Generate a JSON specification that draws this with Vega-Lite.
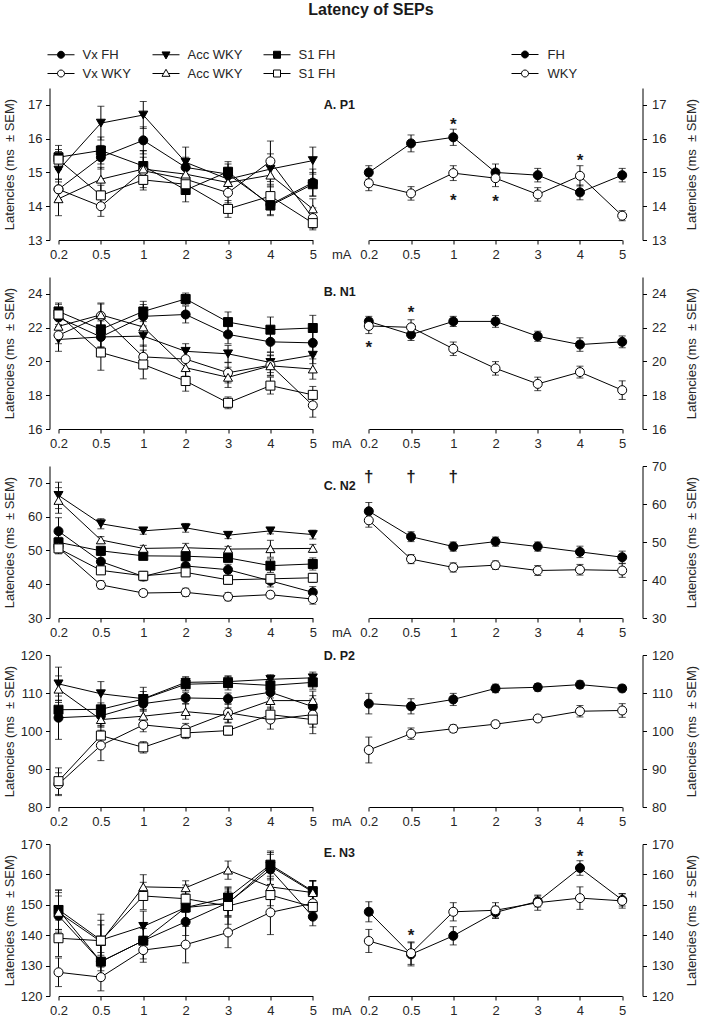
{
"$schema": "https://vega.github.io/schema/vega-lite/v6.json",
"padding": {"left": 3.5, "top": 2, "right": 2, "bottom": 2},
"title": {"text": "Latency of SEPs", "font": "Liberation Sans", "fontSize": 16, "fontWeight": "bold", "color": "#1a1a1a", "anchor": "middle", "dx": 20, "offset": 30},
"config": {
  "font": "Liberation Sans",
  "view": {"stroke": null},
  "axis": {"labelFont": "Liberation Sans", "labelFontSize": 13, "labelColor": "#262626", "titleFont": "Liberation Sans", "titleFontSize": 13, "titleFontWeight": "normal", "titleColor": "#262626", "domainColor": "#000", "tickColor": "#000", "tickSize": 4, "grid": false, "labelPadding": 4},
  "line": {"color": "#000", "strokeWidth": 1},
  "point": {"filled": true, "size": 81, "stroke": "#000", "strokeWidth": 1, "opacity": 1}
},
"resolve": {"scale": {"fill": "independent", "shape": "independent", "stroke": "independent"}, "legend": {"fill": "independent", "shape": "independent", "stroke": "independent"}},
"datasets": {
"lA": [
{"s":"Vx FH","x":"0.2","v":14.5,"e":0.3},{"s":"Vx FH","x":"0.5","v":15.45,"e":0.35},{"s":"Vx FH","x":"1","v":15.95,"e":0.4},{"s":"Vx FH","x":"2","v":15.15,"e":0.3},{"s":"Vx FH","x":"3","v":14.95,"e":0.3},{"s":"Vx FH","x":"4","v":14.05,"e":0.3},{"s":"Vx FH","x":"5","v":14.7,"e":0.4},
{"s":"Acc FH","x":"0.2","v":15.07,"e":0.55},{"s":"Acc FH","x":"0.5","v":16.46,"e":0.5},{"s":"Acc FH","x":"1","v":16.7,"e":0.4},{"s":"Acc FH","x":"2","v":15.3,"e":0.45},{"s":"Acc FH","x":"3","v":14.8,"e":0.35},{"s":"Acc FH","x":"4","v":15.1,"e":0.45},{"s":"Acc FH","x":"5","v":15.35,"e":0.4},
{"s":"S1 FH","x":"0.2","v":15.45,"e":0.35},{"s":"S1 FH","x":"0.5","v":15.65,"e":0.4},{"s":"S1 FH","x":"1","v":15.19,"e":0.45},{"s":"S1 FH","x":"2","v":14.48,"e":0.35},{"s":"S1 FH","x":"3","v":15.02,"e":0.3},{"s":"S1 FH","x":"4","v":14.02,"e":0.3},{"s":"S1 FH","x":"5","v":14.65,"e":0.35},
{"s":"Vx WKY","x":"0.2","v":14.5,"e":0.3},{"s":"Vx WKY","x":"0.5","v":14.0,"e":0.3},{"s":"Vx WKY","x":"1","v":15.05,"e":0.4},{"s":"Vx WKY","x":"2","v":14.8,"e":0.3},{"s":"Vx WKY","x":"3","v":14.4,"e":0.3},{"s":"Vx WKY","x":"4","v":15.33,"e":0.6},{"s":"Vx WKY","x":"5","v":13.65,"e":0.3},
{"s":"Acc WKY","x":"0.2","v":14.22,"e":0.5},{"s":"Acc WKY","x":"0.5","v":14.8,"e":0.35},{"s":"Acc WKY","x":"1","v":15.1,"e":0.55},{"s":"Acc WKY","x":"2","v":14.95,"e":0.3},{"s":"Acc WKY","x":"3","v":14.7,"e":0.3},{"s":"Acc WKY","x":"4","v":14.92,"e":0.35},{"s":"Acc WKY","x":"5","v":13.92,"e":0.3},
{"s":"S1 WKY","x":"0.2","v":15.38,"e":0.3},{"s":"S1 WKY","x":"0.5","v":14.32,"e":0.3},{"s":"S1 WKY","x":"1","v":14.78,"e":0.3},{"s":"S1 WKY","x":"2","v":14.65,"e":0.3},{"s":"S1 WKY","x":"3","v":13.92,"e":0.25},{"s":"S1 WKY","x":"4","v":14.3,"e":0.3},{"s":"S1 WKY","x":"5","v":13.5,"e":0.2}
],
"rA": [
{"s":"FH","x":"0.2","v":15.0,"e":0.2},{"s":"FH","x":"0.5","v":15.86,"e":0.25},{"s":"FH","x":"1","v":16.04,"e":0.24},{"s":"FH","x":"2","v":15.0,"e":0.25},{"s":"FH","x":"3","v":14.92,"e":0.2},{"s":"FH","x":"4","v":14.41,"e":0.22},{"s":"FH","x":"5","v":14.92,"e":0.2},
{"s":"WKY","x":"0.2","v":14.68,"e":0.22},{"s":"WKY","x":"0.5","v":14.38,"e":0.2},{"s":"WKY","x":"1","v":14.98,"e":0.22},{"s":"WKY","x":"2","v":14.83,"e":0.25},{"s":"WKY","x":"3","v":14.35,"e":0.2},{"s":"WKY","x":"4","v":14.9,"e":0.3},{"s":"WKY","x":"5","v":13.72,"e":0.15}
],
"lB": [
{"s":"Vx FH","x":"0.2","v":22.6,"e":0.6},{"s":"Vx FH","x":"0.5","v":21.45,"e":0.6},{"s":"Vx FH","x":"1","v":22.67,"e":0.7},{"s":"Vx FH","x":"2","v":22.78,"e":0.5},{"s":"Vx FH","x":"3","v":21.6,"e":0.55},{"s":"Vx FH","x":"4","v":21.16,"e":0.6},{"s":"Vx FH","x":"5","v":21.1,"e":0.7},
{"s":"Acc FH","x":"0.2","v":21.3,"e":0.7},{"s":"Acc FH","x":"0.5","v":21.45,"e":0.6},{"s":"Acc FH","x":"1","v":21.5,"e":0.6},{"s":"Acc FH","x":"2","v":20.6,"e":0.45},{"s":"Acc FH","x":"3","v":20.45,"e":0.5},{"s":"Acc FH","x":"4","v":19.94,"e":0.6},{"s":"Acc FH","x":"5","v":20.37,"e":0.5},
{"s":"S1 FH","x":"0.2","v":22.96,"e":0.5},{"s":"S1 FH","x":"0.5","v":21.9,"e":0.5},{"s":"S1 FH","x":"1","v":22.96,"e":0.6},{"s":"S1 FH","x":"2","v":23.7,"e":0.35},{"s":"S1 FH","x":"3","v":22.33,"e":0.6},{"s":"S1 FH","x":"4","v":21.88,"e":0.75},{"s":"S1 FH","x":"5","v":21.98,"e":0.75},
{"s":"Vx WKY","x":"0.2","v":21.55,"e":0.5},{"s":"Vx WKY","x":"0.5","v":22.7,"e":0.7},{"s":"Vx WKY","x":"1","v":20.27,"e":0.7},{"s":"Vx WKY","x":"2","v":20.14,"e":0.6},{"s":"Vx WKY","x":"3","v":19.33,"e":0.6},{"s":"Vx WKY","x":"4","v":19.78,"e":0.6},{"s":"Vx WKY","x":"5","v":17.4,"e":0.7},
{"s":"Acc WKY","x":"0.2","v":22.08,"e":0.6},{"s":"Acc WKY","x":"0.5","v":22.76,"e":0.7},{"s":"Acc WKY","x":"1","v":22.04,"e":0.6},{"s":"Acc WKY","x":"2","v":19.63,"e":0.5},{"s":"Acc WKY","x":"3","v":19.06,"e":0.6},{"s":"Acc WKY","x":"4","v":19.74,"e":0.6},{"s":"Acc WKY","x":"5","v":19.55,"e":0.6},
{"s":"S1 WKY","x":"0.2","v":22.78,"e":0.6},{"s":"S1 WKY","x":"0.5","v":20.53,"e":1.05},{"s":"S1 WKY","x":"1","v":19.82,"e":0.85},{"s":"S1 WKY","x":"2","v":18.84,"e":0.6},{"s":"S1 WKY","x":"3","v":17.55,"e":0.35},{"s":"S1 WKY","x":"4","v":18.57,"e":0.5},{"s":"S1 WKY","x":"5","v":18.02,"e":0.5}
],
"rB": [
{"s":"FH","x":"0.2","v":22.37,"e":0.3},{"s":"FH","x":"0.5","v":21.59,"e":0.35},{"s":"FH","x":"1","v":22.37,"e":0.3},{"s":"FH","x":"2","v":22.37,"e":0.35},{"s":"FH","x":"3","v":21.49,"e":0.3},{"s":"FH","x":"4","v":21.0,"e":0.4},{"s":"FH","x":"5","v":21.16,"e":0.35},
{"s":"WKY","x":"0.2","v":22.1,"e":0.45},{"s":"WKY","x":"0.5","v":22.02,"e":0.45},{"s":"WKY","x":"1","v":20.75,"e":0.4},{"s":"WKY","x":"2","v":19.59,"e":0.4},{"s":"WKY","x":"3","v":18.67,"e":0.4},{"s":"WKY","x":"4","v":19.37,"e":0.35},{"s":"WKY","x":"5","v":18.3,"e":0.55}
],
"lC": [
{"s":"Vx FH","x":"0.2","v":55.7,"e":4.0},{"s":"Vx FH","x":"0.5","v":46.7,"e":1.8},{"s":"Vx FH","x":"1","v":42.3,"e":1.3},{"s":"Vx FH","x":"2","v":45.4,"e":1.5},{"s":"Vx FH","x":"3","v":44.3,"e":1.6},{"s":"Vx FH","x":"4","v":41.0,"e":1.8},{"s":"Vx FH","x":"5","v":37.6,"e":1.7},
{"s":"Acc FH","x":"0.2","v":66.3,"e":3.9},{"s":"Acc FH","x":"0.5","v":57.9,"e":1.5},{"s":"Acc FH","x":"1","v":55.8,"e":1.0},{"s":"Acc FH","x":"2","v":56.7,"e":1.3},{"s":"Acc FH","x":"3","v":54.5,"e":1.0},{"s":"Acc FH","x":"4","v":55.8,"e":0.9},{"s":"Acc FH","x":"5","v":54.7,"e":1.3},
{"s":"S1 FH","x":"0.2","v":52.4,"e":1.5},{"s":"S1 FH","x":"0.5","v":49.9,"e":1.0},{"s":"S1 FH","x":"1","v":48.4,"e":1.0},{"s":"S1 FH","x":"2","v":48.3,"e":1.3},{"s":"S1 FH","x":"3","v":47.8,"e":1.0},{"s":"S1 FH","x":"4","v":45.5,"e":2.0},{"s":"S1 FH","x":"5","v":46.0,"e":1.8},
{"s":"Vx WKY","x":"0.2","v":50.8,"e":1.5},{"s":"Vx WKY","x":"0.5","v":39.8,"e":1.2},{"s":"Vx WKY","x":"1","v":37.4,"e":1.0},{"s":"Vx WKY","x":"2","v":37.6,"e":1.2},{"s":"Vx WKY","x":"3","v":36.3,"e":1.2},{"s":"Vx WKY","x":"4","v":36.9,"e":1.0},{"s":"Vx WKY","x":"5","v":35.6,"e":1.5},
{"s":"Acc WKY","x":"0.2","v":64.8,"e":3.8},{"s":"Acc WKY","x":"0.5","v":53.1,"e":1.0},{"s":"Acc WKY","x":"1","v":50.6,"e":0.9},{"s":"Acc WKY","x":"2","v":50.8,"e":1.3},{"s":"Acc WKY","x":"3","v":50.4,"e":0.8},{"s":"Acc WKY","x":"4","v":50.5,"e":2.5},{"s":"Acc WKY","x":"5","v":50.6,"e":1.2},
{"s":"S1 WKY","x":"0.2","v":50.6,"e":1.6},{"s":"S1 WKY","x":"0.5","v":44.1,"e":1.2},{"s":"S1 WKY","x":"1","v":42.5,"e":1.3},{"s":"S1 WKY","x":"2","v":43.5,"e":1.0},{"s":"S1 WKY","x":"3","v":41.3,"e":1.3},{"s":"S1 WKY","x":"4","v":41.6,"e":1.2},{"s":"S1 WKY","x":"5","v":41.9,"e":1.3}
],
"rC": [
{"s":"FH","x":"0.2","v":58.1,"e":2.3},{"s":"FH","x":"0.5","v":51.4,"e":1.3},{"s":"FH","x":"1","v":48.8,"e":1.2},{"s":"FH","x":"2","v":50.1,"e":1.2},{"s":"FH","x":"3","v":48.8,"e":1.2},{"s":"FH","x":"4","v":47.4,"e":1.5},{"s":"FH","x":"5","v":46.0,"e":1.6},
{"s":"WKY","x":"0.2","v":55.7,"e":1.8},{"s":"WKY","x":"0.5","v":45.5,"e":1.2},{"s":"WKY","x":"1","v":43.3,"e":1.2},{"s":"WKY","x":"2","v":43.9,"e":1.1},{"s":"WKY","x":"3","v":42.5,"e":1.3},{"s":"WKY","x":"4","v":42.7,"e":1.4},{"s":"WKY","x":"5","v":42.5,"e":1.8}
],
"lD": [
{"s":"Vx FH","x":"0.2","v":103.5,"e":5.7},{"s":"Vx FH","x":"0.5","v":104.0,"e":2.5},{"s":"Vx FH","x":"1","v":107.2,"e":2.0},{"s":"Vx FH","x":"2","v":108.7,"e":1.5},{"s":"Vx FH","x":"3","v":108.5,"e":1.5},{"s":"Vx FH","x":"4","v":110.2,"e":1.5},{"s":"Vx FH","x":"5","v":106.4,"e":2.0},
{"s":"Acc FH","x":"0.2","v":112.4,"e":4.4},{"s":"Acc FH","x":"0.5","v":109.8,"e":3.2},{"s":"Acc FH","x":"1","v":108.5,"e":3.0},{"s":"Acc FH","x":"2","v":112.8,"e":1.5},{"s":"Acc FH","x":"3","v":113.0,"e":1.5},{"s":"Acc FH","x":"4","v":113.6,"e":1.2},{"s":"Acc FH","x":"5","v":114.0,"e":1.5},
{"s":"S1 FH","x":"0.2","v":105.6,"e":2.5},{"s":"S1 FH","x":"0.5","v":105.7,"e":1.7},{"s":"S1 FH","x":"1","v":108.4,"e":2.0},{"s":"S1 FH","x":"2","v":112.3,"e":1.7},{"s":"S1 FH","x":"3","v":112.6,"e":1.8},{"s":"S1 FH","x":"4","v":112.0,"e":1.5},{"s":"S1 FH","x":"5","v":112.8,"e":1.8},
{"s":"Vx WKY","x":"0.2","v":86.0,"e":3.0},{"s":"Vx WKY","x":"0.5","v":96.2,"e":4.0},{"s":"Vx WKY","x":"1","v":101.6,"e":1.8},{"s":"Vx WKY","x":"2","v":100.5,"e":1.5},{"s":"Vx WKY","x":"3","v":104.8,"e":2.5},{"s":"Vx WKY","x":"4","v":103.0,"e":2.5},{"s":"Vx WKY","x":"5","v":104.3,"e":5.0},
{"s":"Acc WKY","x":"0.2","v":111.0,"e":3.5},{"s":"Acc WKY","x":"0.5","v":103.0,"e":2.0},{"s":"Acc WKY","x":"1","v":103.9,"e":1.8},{"s":"Acc WKY","x":"2","v":105.1,"e":2.0},{"s":"Acc WKY","x":"3","v":104.1,"e":2.0},{"s":"Acc WKY","x":"4","v":108.0,"e":2.0},{"s":"Acc WKY","x":"5","v":108.0,"e":2.5},
{"s":"S1 WKY","x":"0.2","v":86.8,"e":3.5},{"s":"S1 WKY","x":"0.5","v":98.8,"e":2.5},{"s":"S1 WKY","x":"1","v":95.7,"e":1.5},{"s":"S1 WKY","x":"2","v":99.5,"e":1.5},{"s":"S1 WKY","x":"3","v":100.1,"e":1.2},{"s":"S1 WKY","x":"4","v":104.3,"e":2.0},{"s":"S1 WKY","x":"5","v":103.0,"e":2.0}
],
"rD": [
{"s":"FH","x":"0.2","v":107.2,"e":2.7},{"s":"FH","x":"0.5","v":106.5,"e":2.0},{"s":"FH","x":"1","v":108.3,"e":1.6},{"s":"FH","x":"2","v":111.2,"e":1.1},{"s":"FH","x":"3","v":111.5,"e":1.0},{"s":"FH","x":"4","v":112.2,"e":1.0},{"s":"FH","x":"5","v":111.2,"e":0.9},
{"s":"WKY","x":"0.2","v":95.0,"e":3.4},{"s":"WKY","x":"0.5","v":99.3,"e":1.5},{"s":"WKY","x":"1","v":100.6,"e":1.0},{"s":"WKY","x":"2","v":101.8,"e":0.9},{"s":"WKY","x":"3","v":103.3,"e":0.8},{"s":"WKY","x":"4","v":105.2,"e":1.5},{"s":"WKY","x":"5","v":105.4,"e":1.8}
],
"lE": [
{"s":"Vx FH","x":"0.2","v":146.4,"e":6.5},{"s":"Vx FH","x":"0.5","v":131.3,"e":3.0},{"s":"Vx FH","x":"1","v":138.2,"e":4.0},{"s":"Vx FH","x":"2","v":144.4,"e":4.5},{"s":"Vx FH","x":"3","v":150.7,"e":4.5},{"s":"Vx FH","x":"4","v":161.6,"e":5.0},{"s":"Vx FH","x":"5","v":146.1,"e":3.0},
{"s":"Acc FH","x":"0.2","v":148.4,"e":6.5},{"s":"Acc FH","x":"0.5","v":138.4,"e":5.0},{"s":"Acc FH","x":"1","v":142.9,"e":5.0},{"s":"Acc FH","x":"2","v":149.1,"e":4.0},{"s":"Acc FH","x":"3","v":150.5,"e":4.0},{"s":"Acc FH","x":"4","v":162.7,"e":4.5},{"s":"Acc FH","x":"5","v":154.2,"e":3.5},
{"s":"S1 FH","x":"0.2","v":148.3,"e":6.5},{"s":"S1 FH","x":"0.5","v":131.3,"e":6.0},{"s":"S1 FH","x":"1","v":138.2,"e":6.0},{"s":"S1 FH","x":"2","v":149.1,"e":4.5},{"s":"S1 FH","x":"3","v":152.4,"e":3.5},{"s":"S1 FH","x":"4","v":163.2,"e":4.5},{"s":"S1 FH","x":"5","v":154.5,"e":3.5},
{"s":"Vx WKY","x":"0.2","v":127.8,"e":4.7},{"s":"Vx WKY","x":"0.5","v":126.2,"e":4.5},{"s":"Vx WKY","x":"1","v":135.1,"e":4.0},{"s":"Vx WKY","x":"2","v":136.9,"e":6.0},{"s":"Vx WKY","x":"3","v":140.9,"e":5.0},{"s":"Vx WKY","x":"4","v":147.5,"e":7.3},{"s":"Vx WKY","x":"5","v":150.5,"e":3.0},
{"s":"Acc WKY","x":"0.2","v":147.5,"e":6.5},{"s":"Acc WKY","x":"0.5","v":137.9,"e":7.0},{"s":"Acc WKY","x":"1","v":155.9,"e":4.0},{"s":"Acc WKY","x":"2","v":155.6,"e":2.3},{"s":"Acc WKY","x":"3","v":161.4,"e":3.0},{"s":"Acc WKY","x":"4","v":155.9,"e":3.5},{"s":"Acc WKY","x":"5","v":154.0,"e":4.0},
{"s":"S1 WKY","x":"0.2","v":139.0,"e":6.0},{"s":"S1 WKY","x":"0.5","v":138.2,"e":8.7},{"s":"S1 WKY","x":"1","v":152.9,"e":4.5},{"s":"S1 WKY","x":"2","v":152.0,"e":4.5},{"s":"S1 WKY","x":"3","v":149.6,"e":6.0},{"s":"S1 WKY","x":"4","v":153.2,"e":3.5},{"s":"S1 WKY","x":"5","v":149.3,"e":4.0}
],
"rE": [
{"s":"FH","x":"0.2","v":147.7,"e":3.3},{"s":"FH","x":"0.5","v":133.7,"e":3.8},{"s":"FH","x":"1","v":139.8,"e":3.0},{"s":"FH","x":"2","v":147.5,"e":2.0},{"s":"FH","x":"3","v":151.1,"e":1.8},{"s":"FH","x":"4","v":162.1,"e":2.4},{"s":"FH","x":"5","v":151.6,"e":2.0},
{"s":"WKY","x":"0.2","v":138.1,"e":3.8},{"s":"WKY","x":"0.5","v":134.1,"e":3.7},{"s":"WKY","x":"1","v":147.7,"e":3.0},{"s":"WKY","x":"2","v":148.2,"e":2.5},{"s":"WKY","x":"3","v":150.7,"e":2.5},{"s":"WKY","x":"4","v":152.2,"e":3.7},{"s":"WKY","x":"5","v":151.3,"e":2.4}
]
},
"columns": 2,
"bounds": "flush",
"spacing": {"row": 37, "column": 33},
"concat": [
{
 "width": 280, "height": 152, "data": {"name": "lA"},
 "encoding": {
  "x": {"field": "x", "type": "ordinal", "scale": {"type": "point", "domain": ["0.2","0.5","1","2","3","4","5"], "range": [9, 263.3], "padding": 0}, "axis": {"labelAngle": 0, "title": "mA", "titleX": 282, "titleY": 8, "titleAlign": "left", "titleBaseline": "top"}},
  "y": {"field": "v", "type": "quantitative", "scale": {"domain": [13, 17.5], "nice": false, "zero": false}, "axis": {"values": [13,14,15,16,17], "labelPadding": 3.5, "title": "Latencies (ms \u00a0± SEM)", "titleX": -40, "titleY": 76, "titleAngle": 270, "titleBaseline": "middle", "titleAlign": "center"}}
 },
 "layer": [
  {"mark": {"type": "errorbar", "color": "#000", "ticks": {"size": 7, "color": "#000"}, "rule": {"color": "#000", "strokeWidth": 1}}, "encoding": {"yError": {"field": "e"}}},
  {"mark": {"type": "line"}, "encoding": {"detail": {"field": "s"}}},
  {"mark": {"type": "point"}, "encoding": {
    "shape": {"field": "s", "type": "nominal", "scale": {"domain": ["Vx FH","Acc FH","S1 FH","Vx WKY","Acc WKY","S1 WKY"], "range": ["circle","triangle-down","square","circle","triangle-up","square"]}, "legend": null},
    "fill": {"field": "s", "type": "nominal", "scale": {"domain": ["Vx FH","Acc FH","S1 FH","Vx WKY","Acc WKY","S1 WKY"], "range": ["#000","#000","#000","#fff","#fff","#fff"]}, "legend": null}}},
  {"transform": [{"filter": "false"}], "mark": {"type": "point", "size": 64, "filled": true, "strokeWidth": 1}, "encoding": {
    "shape": {"field": "s", "type": "nominal", "scale": {"domain": ["Vx FH","Acc FH","S1 FH","Vx WKY","Acc WKY","S1 WKY"], "range": [
      "M-3.375,0H-0.875M0.875,0H3.375M0.875,0A0.875,0.875,0,1,1,-0.875,0A0.875,0.875,0,1,1,0.875,0Z",
      "M-3.375,0H-0.6M0.6,0H3.375M-1,-0.7H1L0,1.05Z",
      "M-3.375,0H-0.875M0.875,0H3.375M-0.875,-0.875H0.875V0.875H-0.875Z",
      "M-3.375,0H-0.875M0.875,0H3.375M0.875,0A0.875,0.875,0,1,1,-0.875,0A0.875,0.875,0,1,1,0.875,0Z",
      "M-3.375,0H-0.6M0.6,0H3.375M0,-1.05L1,0.7H-1Z",
      "M-3.375,0H-0.875M0.875,0H3.375M-0.875,-0.875H0.875V0.875H-0.875Z"]},
      "legend": {"orient": "none", "legendX": 5, "legendY": -40, "title": null, "direction": "horizontal", "columns": 3, "columnPadding": 19, "rowPadding": 5, "padding": 0, "labelFont": "Liberation Sans", "labelFontSize": 13, "labelColor": "#262626", "labelOffset": 15, "symbolSize": 64, "symbolStrokeWidth": 1, "symbolOpacity": 1, "labelExpr": "datum.label == 'Acc FH' ? 'Acc WKY' : (datum.label == 'S1 WKY' ? 'S1 FH' : datum.label)"}},
    "fill": {"field": "s", "type": "nominal", "scale": {"domain": ["Vx FH","Acc FH","S1 FH","Vx WKY","Acc WKY","S1 WKY"], "range": ["#000","#000","#000","#fff","#fff","#fff"]},
      "legend": {"orient": "none", "legendX": 5, "legendY": -40, "title": null, "direction": "horizontal", "columns": 3, "columnPadding": 19, "rowPadding": 5, "padding": 0, "labelFont": "Liberation Sans", "labelFontSize": 13, "labelColor": "#262626", "labelOffset": 15, "symbolSize": 64, "symbolStrokeWidth": 1, "symbolOpacity": 1, "labelExpr": "datum.label == 'Acc FH' ? 'Acc WKY' : (datum.label == 'S1 WKY' ? 'S1 FH' : datum.label)"}},
    "stroke": {"field": "s", "type": "nominal", "scale": {"domain": ["Vx FH","Acc FH","S1 FH","Vx WKY","Acc WKY","S1 WKY"], "range": ["#000","#000","#000","#000","#000","#000"]},
      "legend": {"orient": "none", "legendX": 5, "legendY": -40, "title": null, "direction": "horizontal", "columns": 3, "columnPadding": 19, "rowPadding": 5, "padding": 0, "labelFont": "Liberation Sans", "labelFontSize": 13, "labelColor": "#262626", "labelOffset": 15, "symbolSize": 64, "symbolStrokeWidth": 1, "symbolOpacity": 1, "labelExpr": "datum.label == 'Acc FH' ? 'Acc WKY' : (datum.label == 'S1 WKY' ? 'S1 FH' : datum.label)"}}}},
  {"data": {"values": [{"lab": "A. P1", "x": "5", "v": 17.0}]}, "mark": {"type": "text", "align": "left", "baseline": "middle", "dx": 11, "font": "Liberation Sans", "fontSize": 12.5, "fontWeight": "bold", "color": "#1a1a1a"}, "encoding": {"text": {"field": "lab", "type": "nominal"}}}
 ],
 "resolve": {"scale": {"shape": "independent", "fill": "independent", "stroke": "independent"}}
},
{
 "width": 280, "height": 152, "data": {"name": "rA"},
 "encoding": {
  "x": {"field": "x", "type": "ordinal", "scale": {"type": "point", "domain": ["0.2","0.5","1","2","3","4","5"], "range": [6.3, 259.7], "padding": 0}, "axis": {"labelAngle": 0, "title": null}},
  "y": {"field": "v", "type": "quantitative", "scale": {"domain": [13, 17.5], "nice": false, "zero": false}, "axis": {"orient": "right", "values": [13,14,15,16,17], "labelPadding": 5, "title": "Latencies (ms \u00a0± SEM)", "titleX": 49, "titleY": 76, "titleAngle": 270, "titleBaseline": "middle", "titleAlign": "center"}}
 },
 "layer": [
  {"mark": {"type": "errorbar", "color": "#000", "ticks": {"size": 7, "color": "#000"}, "rule": {"color": "#000", "strokeWidth": 1}}, "encoding": {"yError": {"field": "e"}}},
  {"mark": {"type": "line"}, "encoding": {"detail": {"field": "s"}}},
  {"mark": {"type": "point"}, "encoding": {
    "shape": {"value": "circle"},
    "fill": {"field": "s", "type": "nominal", "scale": {"domain": ["FH","WKY"], "range": ["#000","#fff"]}, "legend": null}}},
  {"transform": [{"filter": "false"}], "mark": {"type": "point", "size": 64, "filled": true, "strokeWidth": 1}, "encoding": {
    "shape": {"field": "s", "type": "nominal", "scale": {"domain": ["FH","WKY"], "range": [
      "M-3.375,0H-0.875M0.875,0H3.375M0.875,0A0.875,0.875,0,1,1,-0.875,0A0.875,0.875,0,1,1,0.875,0Z",
      "M-3.375,0H-0.875M0.875,0H3.375M0.875,0A0.875,0.875,0,1,1,-0.875,0A0.875,0.875,0,1,1,0.875,0Z"]},
      "legend": {"orient": "none", "legendX": 156, "legendY": -40, "title": null, "direction": "vertical", "rowPadding": 5, "padding": 0, "labelFont": "Liberation Sans", "labelFontSize": 13, "labelColor": "#262626", "labelOffset": 16, "symbolSize": 64, "symbolStrokeWidth": 1, "symbolOpacity": 1}},
    "fill": {"field": "s", "type": "nominal", "scale": {"domain": ["FH","WKY"], "range": ["#000","#fff"]},
      "legend": {"orient": "none", "legendX": 156, "legendY": -40, "title": null, "direction": "vertical", "rowPadding": 5, "padding": 0, "labelFont": "Liberation Sans", "labelFontSize": 13, "labelColor": "#262626", "labelOffset": 16, "symbolSize": 64, "symbolStrokeWidth": 1, "symbolOpacity": 1}},
    "stroke": {"field": "s", "type": "nominal", "scale": {"domain": ["FH","WKY"], "range": ["#000","#000"]},
      "legend": {"orient": "none", "legendX": 156, "legendY": -40, "title": null, "direction": "vertical", "rowPadding": 5, "padding": 0, "labelFont": "Liberation Sans", "labelFontSize": 13, "labelColor": "#262626", "labelOffset": 16, "symbolSize": 64, "symbolStrokeWidth": 1, "symbolOpacity": 1}}}},
  {"data": {"values": [{"x":"1","y":16.53,"t":"*"},{"x":"1","y":14.28,"t":"*"},{"x":"2","y":14.25,"t":"*"},{"x":"4","y":15.45,"t":"*"}]}, "mark": {"type": "text", "baseline": "alphabetic", "dy": 9, "font": "Liberation Sans", "fontSize": 17, "fontWeight": "bold", "color": "#1a1a1a"}, "encoding": {"x": {"field": "x", "type": "ordinal"}, "y": {"field": "y", "type": "quantitative"}, "text": {"field": "t"}}}
 ],
 "resolve": {"scale": {"shape": "independent", "fill": "independent", "stroke": "independent"}}
},
{
 "width": 280, "height": 152, "data": {"name": "lB"},
 "encoding": {
  "x": {"field": "x", "type": "ordinal", "scale": {"type": "point", "domain": ["0.2","0.5","1","2","3","4","5"], "range": [9, 263.3], "padding": 0}, "axis": {"labelAngle": 0, "title": "mA", "titleX": 282, "titleY": 8, "titleAlign": "left", "titleBaseline": "top"}},
  "y": {"field": "v", "type": "quantitative", "scale": {"domain": [16, 25], "nice": false, "zero": false}, "axis": {"values": [16,18,20,22,24], "labelPadding": 3.5, "title": "Latencies (ms \u00a0± SEM)", "titleX": -40, "titleY": 76, "titleAngle": 270, "titleBaseline": "middle", "titleAlign": "center"}}
 },
 "layer": [
  {"mark": {"type": "errorbar", "color": "#000", "ticks": {"size": 7, "color": "#000"}, "rule": {"color": "#000", "strokeWidth": 1}}, "encoding": {"yError": {"field": "e"}}},
  {"mark": {"type": "line"}, "encoding": {"detail": {"field": "s"}}},
  {"mark": {"type": "point"}, "encoding": {
    "shape": {"field": "s", "type": "nominal", "scale": {"domain": ["Vx FH","Acc FH","S1 FH","Vx WKY","Acc WKY","S1 WKY"], "range": ["circle","triangle-down","square","circle","triangle-up","square"]}, "legend": null},
    "fill": {"field": "s", "type": "nominal", "scale": {"domain": ["Vx FH","Acc FH","S1 FH","Vx WKY","Acc WKY","S1 WKY"], "range": ["#000","#000","#000","#fff","#fff","#fff"]}, "legend": null}}},
  {"data": {"values": [{"lab": "B. N1", "x": "5", "v": 24.1}]}, "mark": {"type": "text", "align": "left", "baseline": "middle", "dx": 11, "font": "Liberation Sans", "fontSize": 12.5, "fontWeight": "bold", "color": "#1a1a1a"}, "encoding": {"text": {"field": "lab", "type": "nominal"}}}
 ]
},
{
 "width": 280, "height": 152, "data": {"name": "rB"},
 "encoding": {
  "x": {"field": "x", "type": "ordinal", "scale": {"type": "point", "domain": ["0.2","0.5","1","2","3","4","5"], "range": [6.3, 259.7], "padding": 0}, "axis": {"labelAngle": 0, "title": null}},
  "y": {"field": "v", "type": "quantitative", "scale": {"domain": [16, 25], "nice": false, "zero": false}, "axis": {"orient": "right", "values": [16,18,20,22,24], "labelPadding": 5, "title": "Latencies (ms \u00a0± SEM)", "titleX": 49, "titleY": 76, "titleAngle": 270, "titleBaseline": "middle", "titleAlign": "center"}}
 },
 "layer": [
  {"mark": {"type": "errorbar", "color": "#000", "ticks": {"size": 7, "color": "#000"}, "rule": {"color": "#000", "strokeWidth": 1}}, "encoding": {"yError": {"field": "e"}}},
  {"mark": {"type": "line"}, "encoding": {"detail": {"field": "s"}}},
  {"mark": {"type": "point"}, "encoding": {
    "shape": {"value": "circle"},
    "fill": {"field": "s", "type": "nominal", "scale": {"domain": ["FH","WKY"], "range": ["#000","#fff"]}, "legend": null}}},
  {"data": {"values": [{"x":"0.5","y":23.1,"t":"*"},{"x":"0.2","y":21.06,"t":"*"}]}, "mark": {"type": "text", "baseline": "alphabetic", "dy": 9, "font": "Liberation Sans", "fontSize": 17, "fontWeight": "bold", "color": "#1a1a1a"}, "encoding": {"x": {"field": "x", "type": "ordinal"}, "y": {"field": "y", "type": "quantitative"}, "text": {"field": "t"}}}
 ]
},
{
 "width": 280, "height": 152, "data": {"name": "lC"},
 "encoding": {
  "x": {"field": "x", "type": "ordinal", "scale": {"type": "point", "domain": ["0.2","0.5","1","2","3","4","5"], "range": [9, 263.3], "padding": 0}, "axis": {"labelAngle": 0, "title": "mA", "titleX": 282, "titleY": 8, "titleAlign": "left", "titleBaseline": "top"}},
  "y": {"field": "v", "type": "quantitative", "scale": {"domain": [30, 75], "nice": false, "zero": false}, "axis": {"values": [30,40,50,60,70], "labelPadding": 3.5, "title": "Latencies (ms \u00a0± SEM)", "titleX": -40, "titleY": 76, "titleAngle": 270, "titleBaseline": "middle", "titleAlign": "center"}}
 },
 "layer": [
  {"mark": {"type": "errorbar", "color": "#000", "ticks": {"size": 7, "color": "#000"}, "rule": {"color": "#000", "strokeWidth": 1}}, "encoding": {"yError": {"field": "e"}}},
  {"mark": {"type": "line"}, "encoding": {"detail": {"field": "s"}}},
  {"mark": {"type": "point"}, "encoding": {
    "shape": {"field": "s", "type": "nominal", "scale": {"domain": ["Vx FH","Acc FH","S1 FH","Vx WKY","Acc WKY","S1 WKY"], "range": ["circle","triangle-down","square","circle","triangle-up","square"]}, "legend": null},
    "fill": {"field": "s", "type": "nominal", "scale": {"domain": ["Vx FH","Acc FH","S1 FH","Vx WKY","Acc WKY","S1 WKY"], "range": ["#000","#000","#000","#fff","#fff","#fff"]}, "legend": null}}},
  {"data": {"values": [{"lab": "C. N2", "x": "5", "v": 69.2}]}, "mark": {"type": "text", "align": "left", "baseline": "middle", "dx": 11, "font": "Liberation Sans", "fontSize": 12.5, "fontWeight": "bold", "color": "#1a1a1a"}, "encoding": {"text": {"field": "lab", "type": "nominal"}}}
 ]
},
{
 "width": 280, "height": 152, "data": {"name": "rC"},
 "encoding": {
  "x": {"field": "x", "type": "ordinal", "scale": {"type": "point", "domain": ["0.2","0.5","1","2","3","4","5"], "range": [6.3, 259.7], "padding": 0}, "axis": {"labelAngle": 0, "title": null}},
  "y": {"field": "v", "type": "quantitative", "scale": {"domain": [30, 70], "nice": false, "zero": false}, "axis": {"orient": "right", "values": [30,40,50,60,70], "labelPadding": 5, "title": "Latencies (ms \u00a0± SEM)", "titleX": 49, "titleY": 76, "titleAngle": 270, "titleBaseline": "middle", "titleAlign": "center"}}
 },
 "layer": [
  {"mark": {"type": "errorbar", "color": "#000", "ticks": {"size": 7, "color": "#000"}, "rule": {"color": "#000", "strokeWidth": 1}}, "encoding": {"yError": {"field": "e"}}},
  {"mark": {"type": "line"}, "encoding": {"detail": {"field": "s"}}},
  {"mark": {"type": "point"}, "encoding": {
    "shape": {"value": "circle"},
    "fill": {"field": "s", "type": "nominal", "scale": {"domain": ["FH","WKY"], "range": ["#000","#fff"]}, "legend": null}}},
  {"data": {"values": [{"x":"0.2","y":67.2,"t":"†"},{"x":"0.5","y":67.2,"t":"†"},{"x":"1","y":67.2,"t":"†"}]}, "mark": {"type": "text", "baseline": "alphabetic", "dy": 5, "font": "Liberation Sans", "fontSize": 17, "fontWeight": "bold", "color": "#1a1a1a"}, "encoding": {"x": {"field": "x", "type": "ordinal"}, "y": {"field": "y", "type": "quantitative"}, "text": {"field": "t"}}}
 ]
},
{
 "width": 280, "height": 152, "data": {"name": "lD"},
 "encoding": {
  "x": {"field": "x", "type": "ordinal", "scale": {"type": "point", "domain": ["0.2","0.5","1","2","3","4","5"], "range": [9, 263.3], "padding": 0}, "axis": {"labelAngle": 0, "title": "mA", "titleX": 282, "titleY": 8, "titleAlign": "left", "titleBaseline": "top"}},
  "y": {"field": "v", "type": "quantitative", "scale": {"domain": [80, 120], "nice": false, "zero": false}, "axis": {"values": [80,90,100,110,120], "labelPadding": 3.5, "title": "Latencies (ms \u00a0± SEM)", "titleX": -40, "titleY": 76, "titleAngle": 270, "titleBaseline": "middle", "titleAlign": "center"}}
 },
 "layer": [
  {"mark": {"type": "errorbar", "color": "#000", "ticks": {"size": 7, "color": "#000"}, "rule": {"color": "#000", "strokeWidth": 1}}, "encoding": {"yError": {"field": "e"}}},
  {"mark": {"type": "line"}, "encoding": {"detail": {"field": "s"}}},
  {"mark": {"type": "point"}, "encoding": {
    "shape": {"field": "s", "type": "nominal", "scale": {"domain": ["Vx FH","Acc FH","S1 FH","Vx WKY","Acc WKY","S1 WKY"], "range": ["circle","triangle-down","square","circle","triangle-up","square"]}, "legend": null},
    "fill": {"field": "s", "type": "nominal", "scale": {"domain": ["Vx FH","Acc FH","S1 FH","Vx WKY","Acc WKY","S1 WKY"], "range": ["#000","#000","#000","#fff","#fff","#fff"]}, "legend": null}}},
  {"data": {"values": [{"lab": "D. P2", "x": "5", "v": 119.8}]}, "mark": {"type": "text", "align": "left", "baseline": "middle", "dx": 11, "font": "Liberation Sans", "fontSize": 12.5, "fontWeight": "bold", "color": "#1a1a1a"}, "encoding": {"text": {"field": "lab", "type": "nominal"}}}
 ]
},
{
 "width": 280, "height": 152, "data": {"name": "rD"},
 "encoding": {
  "x": {"field": "x", "type": "ordinal", "scale": {"type": "point", "domain": ["0.2","0.5","1","2","3","4","5"], "range": [6.3, 259.7], "padding": 0}, "axis": {"labelAngle": 0, "title": null}},
  "y": {"field": "v", "type": "quantitative", "scale": {"domain": [80, 120], "nice": false, "zero": false}, "axis": {"orient": "right", "values": [80,90,100,110,120], "labelPadding": 5, "title": "Latencies (ms \u00a0± SEM)", "titleX": 49, "titleY": 76, "titleAngle": 270, "titleBaseline": "middle", "titleAlign": "center"}}
 },
 "layer": [
  {"mark": {"type": "errorbar", "color": "#000", "ticks": {"size": 7, "color": "#000"}, "rule": {"color": "#000", "strokeWidth": 1}}, "encoding": {"yError": {"field": "e"}}},
  {"mark": {"type": "line"}, "encoding": {"detail": {"field": "s"}}},
  {"mark": {"type": "point"}, "encoding": {
    "shape": {"value": "circle"},
    "fill": {"field": "s", "type": "nominal", "scale": {"domain": ["FH","WKY"], "range": ["#000","#fff"]}, "legend": null}}}
 ]
},
{
 "width": 280, "height": 152, "data": {"name": "lE"},
 "encoding": {
  "x": {"field": "x", "type": "ordinal", "scale": {"type": "point", "domain": ["0.2","0.5","1","2","3","4","5"], "range": [9, 263.3], "padding": 0}, "axis": {"labelAngle": 0, "title": "mA", "titleX": 282, "titleY": 8, "titleAlign": "left", "titleBaseline": "top"}},
  "y": {"field": "v", "type": "quantitative", "scale": {"domain": [120, 170], "nice": false, "zero": false}, "axis": {"values": [120,130,140,150,160,170], "labelPadding": 3.5, "title": "Latencies (ms \u00a0± SEM)", "titleX": -40, "titleY": 76, "titleAngle": 270, "titleBaseline": "middle", "titleAlign": "center"}}
 },
 "layer": [
  {"mark": {"type": "errorbar", "color": "#000", "ticks": {"size": 7, "color": "#000"}, "rule": {"color": "#000", "strokeWidth": 1}}, "encoding": {"yError": {"field": "e"}}},
  {"mark": {"type": "line"}, "encoding": {"detail": {"field": "s"}}},
  {"mark": {"type": "point"}, "encoding": {
    "shape": {"field": "s", "type": "nominal", "scale": {"domain": ["Vx FH","Acc FH","S1 FH","Vx WKY","Acc WKY","S1 WKY"], "range": ["circle","triangle-down","square","circle","triangle-up","square"]}, "legend": null},
    "fill": {"field": "s", "type": "nominal", "scale": {"domain": ["Vx FH","Acc FH","S1 FH","Vx WKY","Acc WKY","S1 WKY"], "range": ["#000","#000","#000","#fff","#fff","#fff"]}, "legend": null}}},
  {"data": {"values": [{"lab": "E. N3", "x": "5", "v": 167.2}]}, "mark": {"type": "text", "align": "left", "baseline": "middle", "dx": 11, "font": "Liberation Sans", "fontSize": 12.5, "fontWeight": "bold", "color": "#1a1a1a"}, "encoding": {"text": {"field": "lab", "type": "nominal"}}}
 ]
},
{
 "width": 280, "height": 152, "data": {"name": "rE"},
 "encoding": {
  "x": {"field": "x", "type": "ordinal", "scale": {"type": "point", "domain": ["0.2","0.5","1","2","3","4","5"], "range": [6.3, 259.7], "padding": 0}, "axis": {"labelAngle": 0, "title": null}},
  "y": {"field": "v", "type": "quantitative", "scale": {"domain": [120, 170], "nice": false, "zero": false}, "axis": {"orient": "right", "values": [120,130,140,150,160,170], "labelPadding": 5, "title": "Latencies (ms \u00a0± SEM)", "titleX": 49, "titleY": 76, "titleAngle": 270, "titleBaseline": "middle", "titleAlign": "center"}}
 },
 "layer": [
  {"mark": {"type": "errorbar", "color": "#000", "ticks": {"size": 7, "color": "#000"}, "rule": {"color": "#000", "strokeWidth": 1}}, "encoding": {"yError": {"field": "e"}}},
  {"mark": {"type": "line"}, "encoding": {"detail": {"field": "s"}}},
  {"mark": {"type": "point"}, "encoding": {
    "shape": {"value": "circle"},
    "fill": {"field": "s", "type": "nominal", "scale": {"domain": ["FH","WKY"], "range": ["#000","#fff"]}, "legend": null}}},
  {"data": {"values": [{"x":"0.5","y":140.9,"t":"*"},{"x":"4","y":167.0,"t":"*"}]}, "mark": {"type": "text", "baseline": "alphabetic", "dy": 9, "font": "Liberation Sans", "fontSize": 17, "fontWeight": "bold", "color": "#1a1a1a"}, "encoding": {"x": {"field": "x", "type": "ordinal"}, "y": {"field": "y", "type": "quantitative"}, "text": {"field": "t"}}}
 ]
}
]
}
